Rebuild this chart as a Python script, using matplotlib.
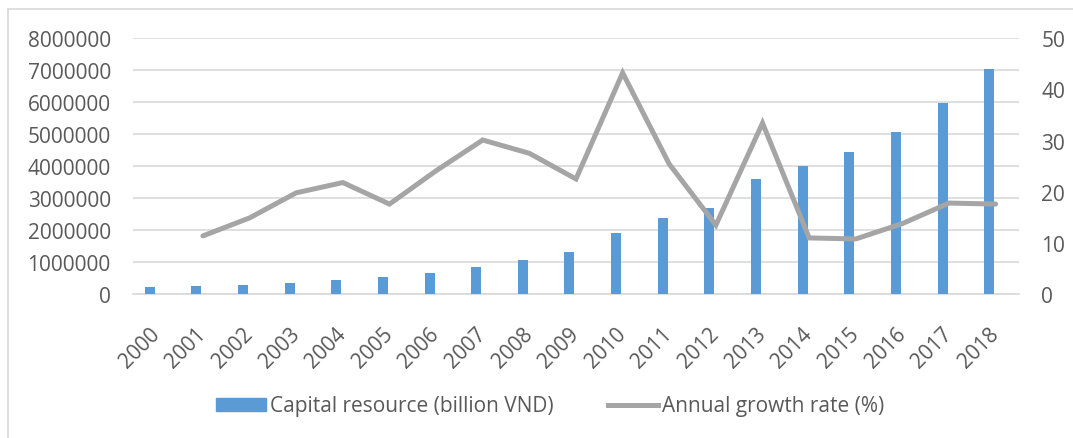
import matplotlib.pyplot as plt
from matplotlib.lines import Line2D
import matplotlib.transforms as mtransforms
import numpy as np

years = [str(y) for y in range(2000, 2019)]
capital = [240000, 270000, 300000, 360000, 450000, 530000, 660000, 850000,
           1080000, 1320000, 1910000, 2380000, 2700000, 3600000, 4020000,
           4450000, 5060000, 5970000, 7020000]
growth = [None, 11.4, 14.9, 19.8, 21.8, 17.6, 24.1, 30.1, 27.5, 22.5,
          43.2, 25.4, 13.5, 33.4, 11.0, 10.8, 13.8, 17.8, 17.6]

plt.rcParams['font.family'] = ['Open Sans', 'DejaVu Sans']
txt = '#595959'
fs = 15

fig = plt.figure(figsize=(10.73, 4.39), dpi=100)
ax = fig.add_axes([133 / 1073, 1 - 295.3 / 439, (1019 - 133) / 1073, (295.3 - 39) / 439])
ax2 = ax.twinx()

x = np.arange(len(years))
ax.bar(x - 0.14, capital, width=0.215, color='#5B9BD5', zorder=3,
       label='Capital resource (billion VND)')
gx = [i for i, g in zip(x, growth) if g is not None]
gy = [g for g in growth if g is not None]
ax2.plot(gx, gy, color='#A5A5A5', lw=3.6, solid_capstyle='round',
         solid_joinstyle='miter', zorder=4)

ax.set_xlim(-0.5, len(years) - 0.5)
ax.set_ylim(0, 8000000)
ax2.set_ylim(0, 50)
ax.set_yticks(range(0, 8000001, 1000000))
ax.set_yticklabels([str(v) for v in range(0, 8000001, 1000000)])
ax2.set_yticks(range(0, 51, 10))
ax.yaxis.grid(True, color='#D9D9D9', lw=1.2, zorder=0)
ax.set_axisbelow(True)

ax.set_xticks(x)
ax.set_xticklabels(years, rotation=45, ha='right', va='center', rotation_mode='anchor')
shift = mtransforms.ScaledTranslation(6 / 100, 0, fig.dpi_scale_trans)
for lab in ax.get_xticklabels():
    lab.set_transform(lab.get_transform() + shift)

for a in (ax, ax2):
    for s in a.spines.values():
        s.set_visible(False)
    a.tick_params(length=0, labelsize=fs, labelcolor=txt)
ax.spines['bottom'].set_visible(True)
ax.spines['bottom'].set_color('#D9D9D9')
ax.spines['bottom'].set_linewidth(1.2)
ax.tick_params(axis='y', pad=16)
ax.tick_params(axis='x', pad=26)
ax2.tick_params(axis='y', pad=16)

handles = [plt.Rectangle((0, 0), 1, 1, color='#5B9BD5'),
           Line2D([0], [0], color='#A5A5A5', lw=3.6)]
fig.legend(handles, ['Capital resource (billion VND)', 'Annual growth rate (%)'],
           loc='center', bbox_to_anchor=(550 / 1073, 1 - 407 / 439), ncol=2,
           frameon=False, fontsize=fs, labelcolor=txt, handlelength=2.4,
           handletextpad=0.2, columnspacing=2.6, handleheight=0.6)

# partial chart frame
fig.add_artist(Line2D([8 / 1073, 8 / 1073], [0, 1 - 10 / 439], color='#D9D9D9', lw=1.2,
                      transform=fig.transFigure))
fig.add_artist(Line2D([8 / 1073, 1], [1 - 10 / 439, 1 - 10 / 439], color='#D9D9D9', lw=1.2,
                      transform=fig.transFigure))

fig.savefig('out.png', dpi=100)
